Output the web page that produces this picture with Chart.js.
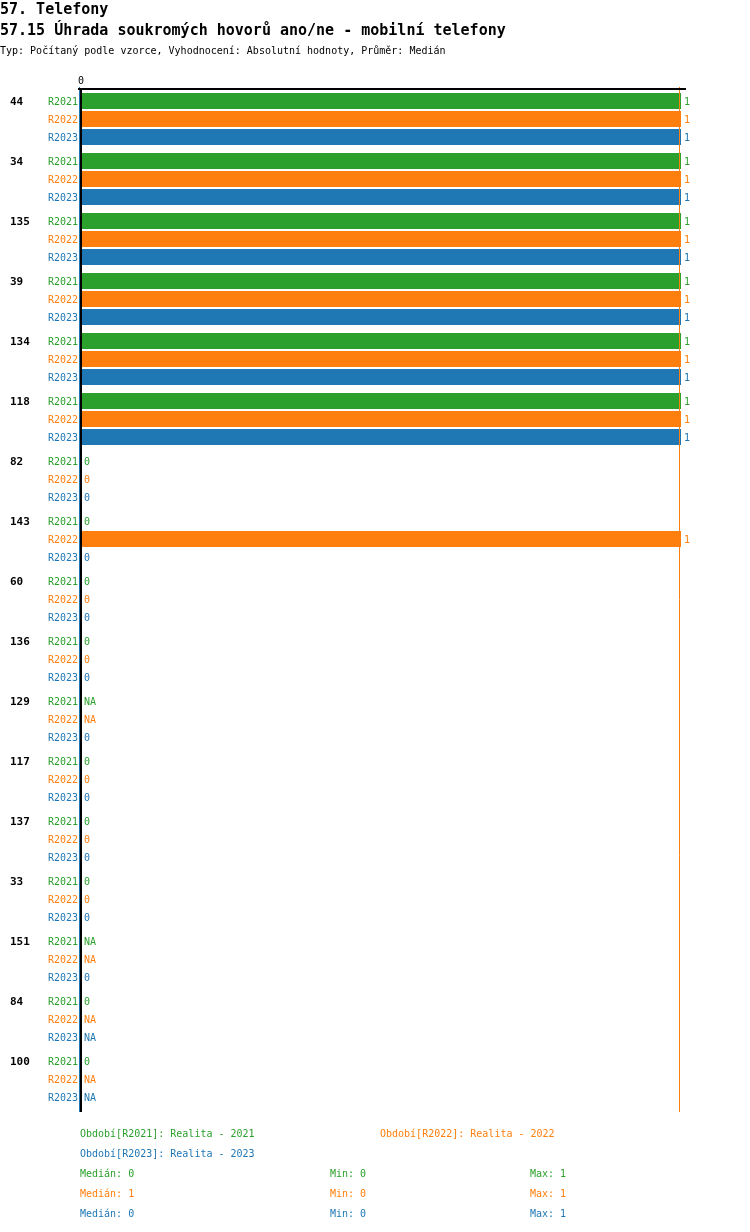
<!DOCTYPE html>
<html>
<head>
<meta charset="utf-8">
<script src="https://cdn.jsdelivr.net/npm/chart.js@4.4.1/dist/chart.umd.min.js"></script>
<style>
  body { margin: 0; background: #fff; font-family: "DejaVu Sans Mono", monospace; }
  #wrap { position: relative; width: 750px; height: 1232px; }
  #myChart { position: absolute; left: 0; top: 0; }
  .t { position: absolute; white-space: pre; line-height: 1; }
  .h1 { font-size: 15px; font-weight: bold; left: 0; }
  .sub { font-size: 10px; left: 0; }
  .lg { font-size: 10px; }
  .g { color: #2ca02c; } .o { color: #ff7f0e; } .b { color: #1f77b4; }
</style>
</head>
<body>
<div id="wrap">
  <canvas id="myChart" width="750" height="1232"></canvas>
  <div class="t h1" style="top:2px">57. Telefony</div>
  <div class="t h1" style="top:23px">57.15 Úhrada soukromých hovorů ano/ne - mobilní telefony</div>
  <div class="t sub" style="top:46px">Typ: Počítaný podle vzorce, Vyhodnocení: Absolutní hodnoty, Průměr: Medián</div>
  <div id="legend"></div>
</div>
<script>
const categories = ['44', '34', '135', '39', '134', '118', '82', '143', '60', '136', '129', '117', '137', '33', '151', '84', '100'];
const seriesNames = ['R2021', 'R2022', 'R2023'];
const seriesTitles = ['Realita - 2021', 'Realita - 2022', 'Realita - 2023'];
const r2021 = [1, 1, 1, 1, 1, 1, 0, 0, 0, 0, null, 0, 0, 0, null, 0, 0];
const r2022 = [1, 1, 1, 1, 1, 1, 0, 1, 0, 0, null, 0, 0, 0, null, null, null];
const r2023 = [1, 1, 1, 1, 1, 1, 0, 0, 0, 0, 0, 0, 0, 0, 0, null, null];
const colors = ['#2ca02c', '#ff7f0e', '#1f77b4'];
const series = [r2021, r2022, r2023];

function median(arr) {
    const v = arr.filter(x => x !== null).sort((a, b) => a - b);
    const m = Math.floor(v.length / 2);
    return v.length % 2 ? v[m] : (v[m - 1] + v[m]) / 2;
}
const stats = series.map(s => {
    const v = s.filter(x => x !== null);
    return { med: median(s), min: Math.min(...v), max: Math.max(...v) };
});

// legend below the chart
const legend = document.getElementById('legend');
function addText(txt, cls, x, y) {
    const d = document.createElement('div');
    d.className = 't lg ' + cls;
    d.style.left = x + 'px';
    d.style.top = y + 'px';
    d.textContent = txt;
    legend.appendChild(d);
}
const cls = ['g', 'o', 'b'];
addText('Období[' + seriesNames[0] + ']: ' + seriesTitles[0], cls[0], 80, 1129);
addText('Období[' + seriesNames[1] + ']: ' + seriesTitles[1], cls[1], 380, 1129);
addText('Období[' + seriesNames[2] + ']: ' + seriesTitles[2], cls[2], 80, 1149);
stats.forEach((s, i) => {
    addText('Medián: ' + s.med, cls[i], 80, 1169 + i * 20);
    addText('Min: ' + s.min, cls[i], 330, 1169 + i * 20);
    addText('Max: ' + s.max, cls[i], 530, 1169 + i * 20);
});

const labelsPlugin = {
    id: 'rowLabels',
    afterDatasetsDraw(chart) {
        const ctx = chart.ctx;
        const xs = chart.scales.x;
        const area = chart.chartArea;
        const x0 = xs.getPixelForValue(0);
        ctx.save();
        // median lines
        stats.forEach((s, i) => {
            const px = Math.round(xs.getPixelForValue(s.med)) - 1.5;
            ctx.strokeStyle = colors[i];
            ctx.lineWidth = 1;
            ctx.beginPath();
            ctx.moveTo(px, area.top - 2);
            ctx.lineTo(px, area.bottom + 3);
            ctx.stroke();
        });
        // axes
        ctx.strokeStyle = '#000';
        ctx.lineWidth = 2;
        ctx.beginPath();
        ctx.moveTo(x0, area.top);
        ctx.lineTo(x0, area.bottom + 3);
        ctx.moveTo(x0 - 3, area.top);
        ctx.lineTo(area.right + 5, area.top);
        ctx.stroke();
        ctx.fillStyle = '#000';
        ctx.font = '10px "DejaVu Sans Mono"';
        ctx.textAlign = 'center';
        ctx.textBaseline = 'middle';
        ctx.fillText('0', x0, area.top - 8);

        categories.forEach((cat, i) => {
            series.forEach((s, d) => {
                const bar = chart.getDatasetMeta(d).data[i];
                const y = bar.y;
                ctx.font = '10px "DejaVu Sans Mono"';
                ctx.fillStyle = colors[d];
                ctx.textAlign = 'right';
                ctx.fillText(seriesNames[d], x0 - 3, y + 1);
                ctx.textAlign = 'left';
                const v = s[i];
                const vx = v === null ? x0 : xs.getPixelForValue(v);
                ctx.fillText(v === null ? 'NA' : String(v), vx + 3, y + 1);
                if (d === 0) {
                    ctx.fillStyle = '#000';
                    ctx.font = 'bold 11px "DejaVu Sans Mono"';
                    ctx.fillText(cat, 10, y + 1);
                }
            });
        });
        ctx.restore();
    }
};

new Chart(document.getElementById('myChart'), {
    type: 'bar',
    data: {
        labels: categories,
        datasets: series.map((s, i) => ({
            label: seriesNames[i],
            data: s,
            backgroundColor: colors[i],
            borderWidth: 0,
            categoryPercentage: 0.9,
            barPercentage: 16 / 18
        }))
    },
    options: {
        indexAxis: 'y',
        responsive: false,
        animation: false,
        layout: { padding: { left: 81, right: 69, top: 89, bottom: 123 } },
        plugins: { legend: { display: false }, tooltip: { enabled: false } },
        scales: {
            x: { display: false, min: 0, max: 1 },
            y: { display: false }
        }
    },
    plugins: [labelsPlugin]
});
</script>
</body>
</html>
